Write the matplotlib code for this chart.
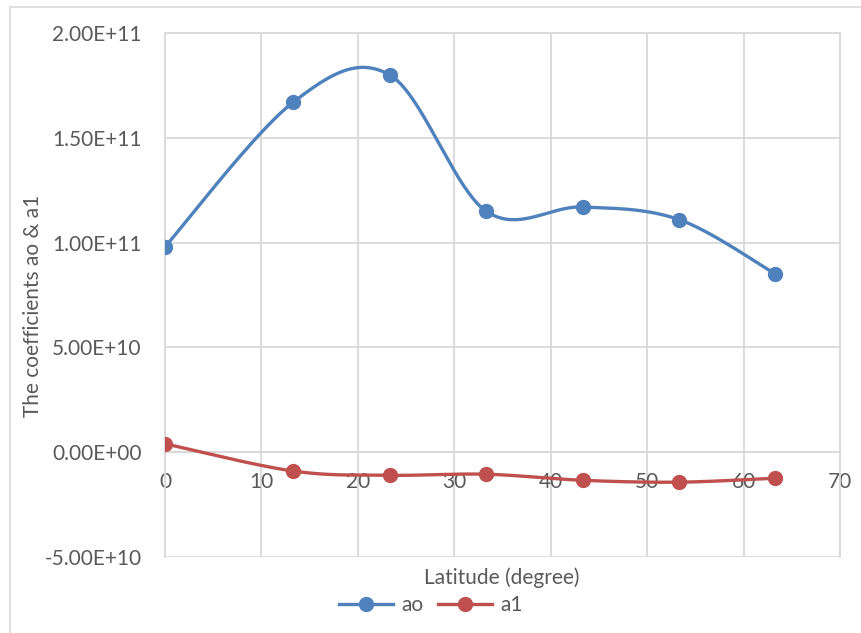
import numpy as np
import matplotlib.pyplot as plt
from matplotlib.patches import Rectangle

latitude = [0, 13.3, 23.3, 33.3, 43.3, 53.3, 63.3]
ao = [0.98e11, 1.67e11, 1.80e11, 1.15e11, 1.17e11, 1.11e11, 0.85e11]
a1 = [0.04e11, -0.09e11, -0.11e11, -0.105e11, -0.134e11, -0.143e11, -0.124e11]
yticks = [-5e10, 0, 5e10, 1e11, 1.5e11, 2e11]
xticks = [0, 10, 20, 30, 40, 50, 60, 70]

plt.rcParams['font.family'] = ['Lato', 'DejaVu Sans']
txt = '#595959'
grid = '#D9D9D9'
fs = 15


def smooth(x, y, n=40):
    # Excel-style smoothed line: cubic bezier with catmull-rom control points
    p = np.column_stack([x, y]).astype(float)
    out = []
    for i in range(len(p) - 1):
        p0 = p[max(i - 1, 0)]
        p1, p2 = p[i], p[i + 1]
        p3 = p[min(i + 2, len(p) - 1)]
        c1 = p1 + (p2 - p0) / 6
        c2 = p2 - (p3 - p1) / 6
        t = np.linspace(0, 1, n)[:, None]
        seg = ((1 - t) ** 3) * p1 + 3 * ((1 - t) ** 2) * t * c1 + 3 * (1 - t) * t ** 2 * c2 + t ** 3 * p2
        out.append(seg if i == 0 else seg[1:])
    s = np.vstack(out)
    return s[:, 0], s[:, 1]


fig = plt.figure(figsize=(8.62, 6.33), dpi=100)
fig.patches.append(Rectangle((10 / 862, -0.05), 1.1, 1 - 7 / 633 + 0.05, transform=fig.transFigure,
                             fill=False, edgecolor=grid, lw=1.2))
ax = fig.add_axes([165 / 862, 1 - 557 / 633, 675 / 862, 524 / 633])

for y, c, name in [(ao, '#4F81BD', 'ao'), (a1, '#C0504D', 'a1')]:
    sx, sy = smooth(latitude, y)
    ax.plot(sx, sy, color=c, lw=2.4, zorder=3)
    ax.plot(latitude, y, 'o', color=c, ms=10, zorder=4)
    ax.plot([], [], color=c, lw=2.4, marker='o', ms=10, label=name)

ax.set_xlim(0, 70)
ax.set_ylim(-5e10, 2e11)
ax.set_xticks(xticks)
ax.set_yticks(yticks)
ax.set_yticklabels(['%.2E' % v for v in yticks])
ax.grid(True, color=grid, lw=1.3)
ax.set_axisbelow(True)
for s in ax.spines.values():
    s.set_color(grid)
    s.set_linewidth(1.3)
ax.spines['bottom'].set_position(('data', 0))
ax.tick_params(length=0, labelsize=fs, labelcolor=txt)
ax.tick_params(axis='x', pad=14)
ax.tick_params(axis='y', pad=17)
ax.set_ylabel('The coefficients ao & a1', fontsize=fs, color=txt)
ax.yaxis.set_label_coords(-0.181, 0.48)

fig.text(502 / 862, 1 - 578 / 633, 'Latitude (degree)', ha='center', va='center', fontsize=fs, color=txt)
fig.legend(loc='center', bbox_to_anchor=(0.5, 1 - 605 / 633), ncol=2, frameon=False,
           fontsize=fs, labelcolor=txt, handlelength=2.6, columnspacing=0.7, handletextpad=0.4)

fig.savefig('out.png', dpi=100)
